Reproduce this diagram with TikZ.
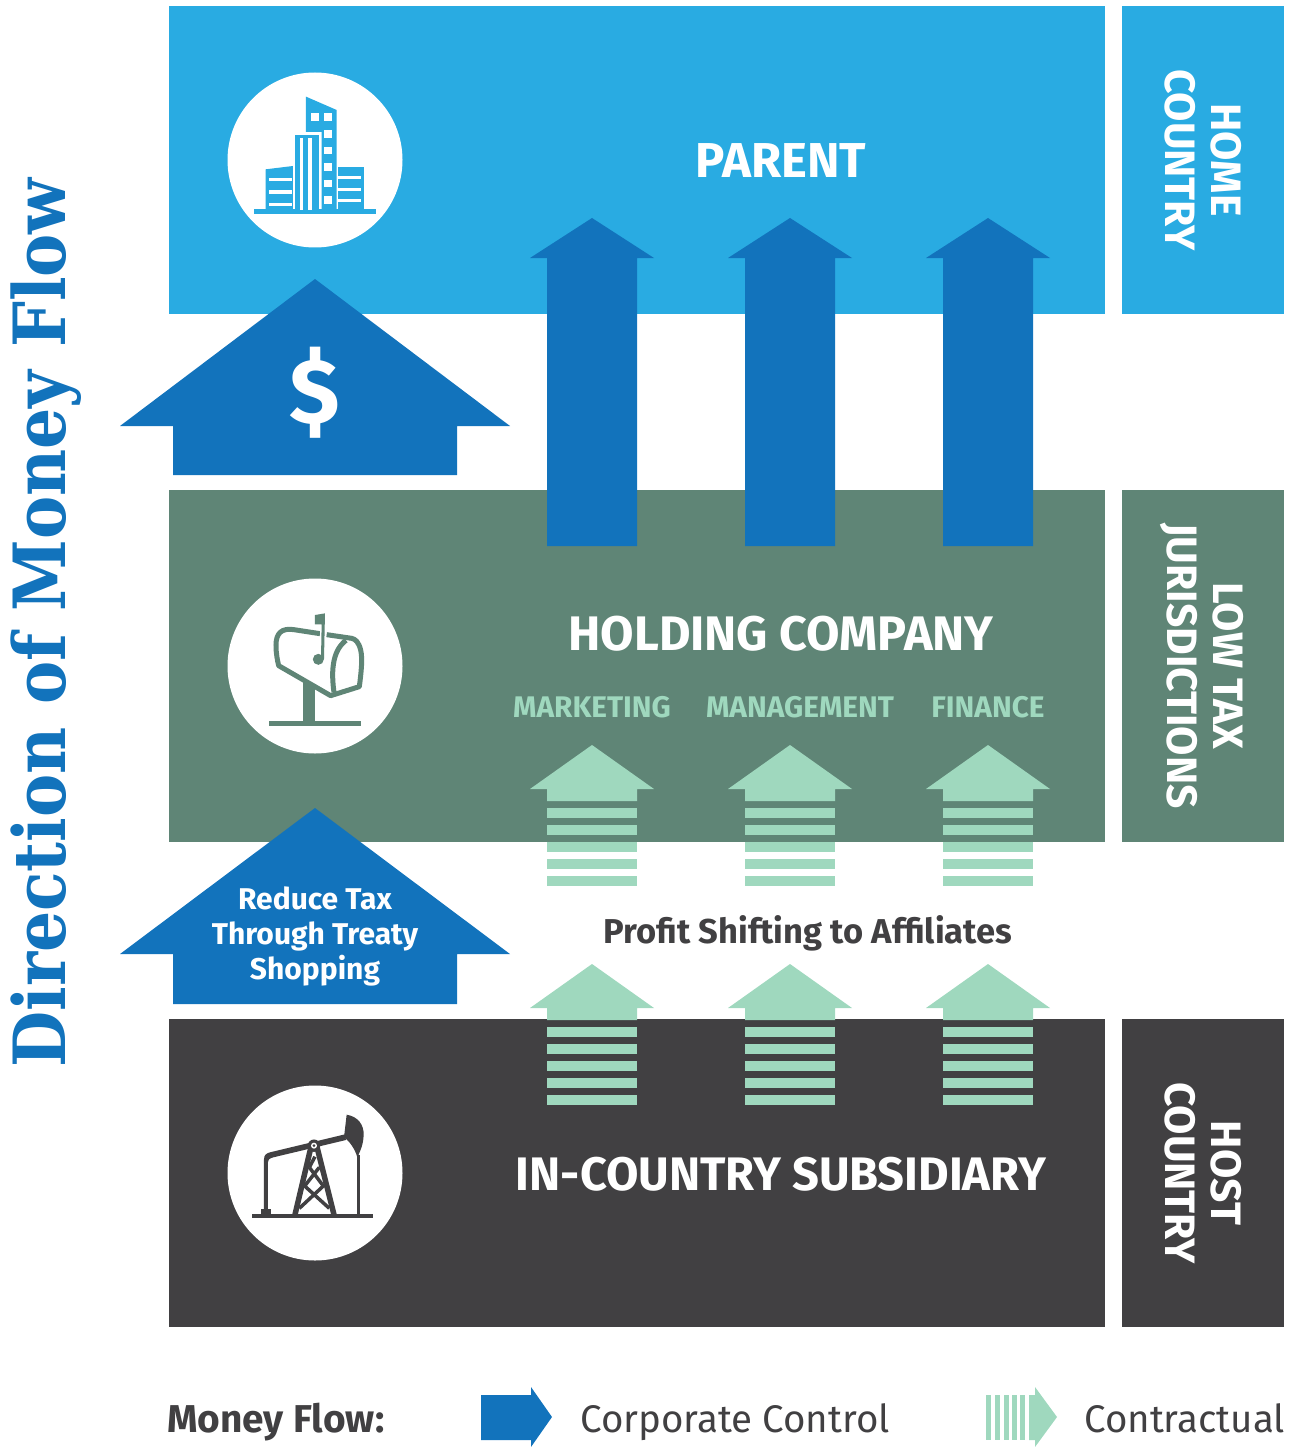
\documentclass[tikz,border=0pt]{standalone}
\usepackage{fontspec}
\setmainfont{Fira Sans}
\newfontfamily\slabfont{DejaVu Serif Condensed}
\definecolor{skyc}{HTML}{29ABE2}
\definecolor{greenc}{HTML}{5F8576}
\definecolor{darkc}{HTML}{414042}
\definecolor{bluec}{HTML}{1273BC}
\definecolor{mintc}{HTML}{9FD8BE}
\tikzset{
  band/.style={fill=#1,draw=none},
  title/.style={text=white,font=\fontsize{#1}{50}\selectfont\bfseries,inner sep=0pt,anchor=center},
  side/.style={text=white,font=\fontsize{42.5}{45.5}\selectfont\bfseries,inner sep=0pt,rotate=-90,align=center,anchor=center},
  sublabel/.style={text=mintc,font=\fontsize{29.8}{32}\selectfont\bfseries,inner sep=0pt,anchor=center},
  legendtext/.style={text=darkc,font=\fontsize{38.5}{42}\selectfont,inner sep=0pt,anchor=base west},
  disc/.style={fill=white,draw=none},
  iconscope/.style={x=0.3333pt,y=-0.3333pt},
}
\newcommand{\talla}[1]{\fill[bluec] (#1-45,546) -- (#1-45,258) -- (#1-62,258) -- (#1,218) -- (#1+62,258) -- (#1+45,258) -- (#1+45,546) -- cycle;}
\newcommand{\contr}[2]{\fill[mintc] (#1-45,#2+56) -- (#1-45,#2+44) -- (#1-62,#2+44) -- (#1,#2) -- (#1+62,#2+44) -- (#1+45,#2+44) -- (#1+45,#2+56) -- cycle;
  \foreach \k in {63,80,97,114,131} {\fill[mintc] (#1-45,#2+\k) rectangle (#1+45,#2+\k+10);}}
\begin{document}
\begin{tikzpicture}[x=1pt,y=-1pt]
\useasboundingbox (0,0) rectangle (1289,1447);
% bands
\fill[band=skyc] (169,6) rectangle (1105,314);
\fill[band=greenc] (169,490) rectangle (1105,842);
\fill[band=darkc] (169,1019) rectangle (1105,1327);
\fill[band=skyc] (1122,6) rectangle (1284,314);
\fill[band=greenc] (1122,490) rectangle (1284,842);
\fill[band=darkc] (1122,1019) rectangle (1284,1327);
% discs
\fill[disc] (315,160) circle (87.5);
\fill[disc] (315,666) circle (87.5);
\fill[disc] (315,1173) circle (87.5);
% building icon
\begin{scope}[shift={(220,60)},iconscope]
  \fill[skyc] (102,448) rectangle (468,461);
  \fill[skyc] (137,328) -- (219,318) -- (219,450) -- (137,450) -- cycle;
  \foreach \yy in {354,391,428} {\fill[white] (147,\yy) rectangle (215,\yy+10);}
  \fill[skyc] (258,110) -- (350,150) -- (350,450) -- (305,450) -- (305,216) -- (258,216) -- cycle;
  \fill[white] (274,160) rectangle (297,183);
  \foreach \yy in {160,210,260,309,359,408} {\fill[white] (313,\yy) rectangle (336,\yy+23);}
  \fill[skyc] (224,226) rectangle (297,450);
  \fill[white] (240,234) rectangle (250,450);
  \fill[white] (265,234) rectangle (275,450);
  \fill[skyc] (355,320) rectangle (432,450);
  \foreach \yy in {349,384,417} {\fill[white] (355,\yy) rectangle (424,\yy+9);}
\end{scope}
% mailbox icon
\begin{scope}[shift={(220,575)},iconscope]
  \fill[greenc] (250,320) rectangle (284,440);
  \fill[greenc] (146,438) rectangle (424,452);
  \draw[greenc,line width=5pt,line join=round,fill=white]
    (300,176) -- (222,164) .. controls (185,158) and (168,175) .. (168,210)
    .. controls (168,235) and (172,255) .. (176,272) -- (332,362) -- (418,335)
    .. controls (424,290) and (428,250) .. (422,225) .. controls (416,200) and (405,192) .. (395,190) -- (320,179);
  \draw[greenc,line width=5pt] (342,352) .. controls (332,280) and (340,225) .. (378,196);
  \fill[white] (300,160) rectangle (319,200);
  \fill[greenc] (285,120) -- (315,115) -- (312,252) -- (303,252) -- (305,148) -- (285,148) -- cycle;
  \fill[greenc] (295,253) circle (5.5pt);
\end{scope}
% pumpjack icon
\begin{scope}[shift={(220,1080)},iconscope]
  \fill[darkc] (95,402) rectangle (460,414);
  \fill[darkc] (122,388) rectangle (152,402);
  \fill[darkc] (132,390) -- (132,238) .. controls (132,224) and (140,220) .. (150,217) -- (375,163) -- (378,180) -- (160,232) .. controls (146,236) and (144,240) .. (144,246) -- (144,390) -- cycle;
  \fill[darkc] (380,104) .. controls (415,110) and (432,135) .. (431,165) .. controls (430,195) and (420,215) .. (412,232) .. controls (405,205) and (385,180) .. (372,172) -- cycle;
  \fill[darkc] (412,225) rectangle (421,402);
  \draw[darkc,line width=5.5pt] (272,205) -- (225,404);
  \draw[darkc,line width=5.5pt] (292,205) -- (342,404);
  \draw[darkc,line width=3.5pt] (268,262) -- (310,318) -- (238,385);
  \draw[darkc,line width=3.5pt] (298,262) -- (254,318) -- (328,385);
  \draw[darkc,line width=3.5pt] (285,230) -- (268,262);
  \fill[darkc] (282,197) circle (6.2pt);
  \fill[white] (282,197) circle (3pt);
  \fill[darkc] (282,197) circle (1.5pt);
\end{scope}
% big arrows
\fill[bluec] (173,475) -- (173,426) -- (120,426) -- (315,279) -- (510,426) -- (457,426) -- (457,475) -- cycle;
\fill[bluec] (173,1004) -- (173,954) -- (120,954) -- (315,808) -- (510,954) -- (457,954) -- (457,1004) -- cycle;
% tall arrows
\talla{592}\talla{790}\talla{988}
% contractual arrows
\contr{592}{745}\contr{790}{745}\contr{988}{745}
\contr{592}{964}\contr{790}{964}\contr{988}{964}
% texts
\node[title=49] (parent) at (781,161) {PARENT};
\node[title=48.5] (holding) at (781,634) {HOLDING COMPANY};
\node[title=47] (subsid) at (781,1174) {IN-COUNTRY SUBSIDIARY};
\node[side] (home) at (1203,160) {HOME\\COUNTRY};
\node[side] (low) at (1202,666) {LOW TAX\\JURISDICTIONS};
\node[side] (host) at (1203,1173) {HOST\\COUNTRY};
\node[sublabel] (mkt) at (592,707) {MARKETING};
\node[sublabel] (mgt) at (800,707) {MANAGEMENT};
\node[sublabel] (fin) at (988,707) {FINANCE};
\node[text=white,font=\fontsize{92}{100}\selectfont\bfseries,inner sep=0pt] (dollar) at (315,393) {\$};
\node[text=white,font=\fontsize{30}{35}\selectfont\bfseries,align=center,inner sep=0pt] (reduce) at (315,936) {Reduce Tax\\Through Treaty\\Shopping};
\node[text=darkc,font=\fontsize{34.5}{38}\selectfont\bfseries,inner sep=0pt] (shift) at (808,933) {Profit Shifting to Affiliates};
\node[text=bluec,font=\fontsize{72}{84}\slabfont\bfseries\selectfont,rotate=90,inner sep=0pt] (dir) at (46,623) {Direction of Money Flow};
% legend
\node[text=darkc,font=\fontsize{38.8}{42}\selectfont\bfseries,inner sep=0pt,anchor=base west] (money) at (167,1432) {Money Flow:};
\fill[bluec] (481,1395) -- (531,1395) -- (531,1387) -- (552,1417) -- (531,1447) -- (531,1440) -- (481,1440) -- cycle;
\node[legendtext] (corp) at (580,1432) {Corporate Control};
\foreach \xx/\ww in {986/5,995/5,1003.5/5.5,1012/5,1020/5} {\fill[mintc] (\xx,1395) rectangle (\xx+\ww,1440);}
\fill[mintc] (1029,1395) -- (1035,1395) -- (1035,1387) -- (1057,1417) -- (1035,1447) -- (1035,1440) -- (1029,1440) -- cycle;
\node[legendtext] (contr) at (1084,1432) {Contractual};
\end{tikzpicture}
\end{document}
